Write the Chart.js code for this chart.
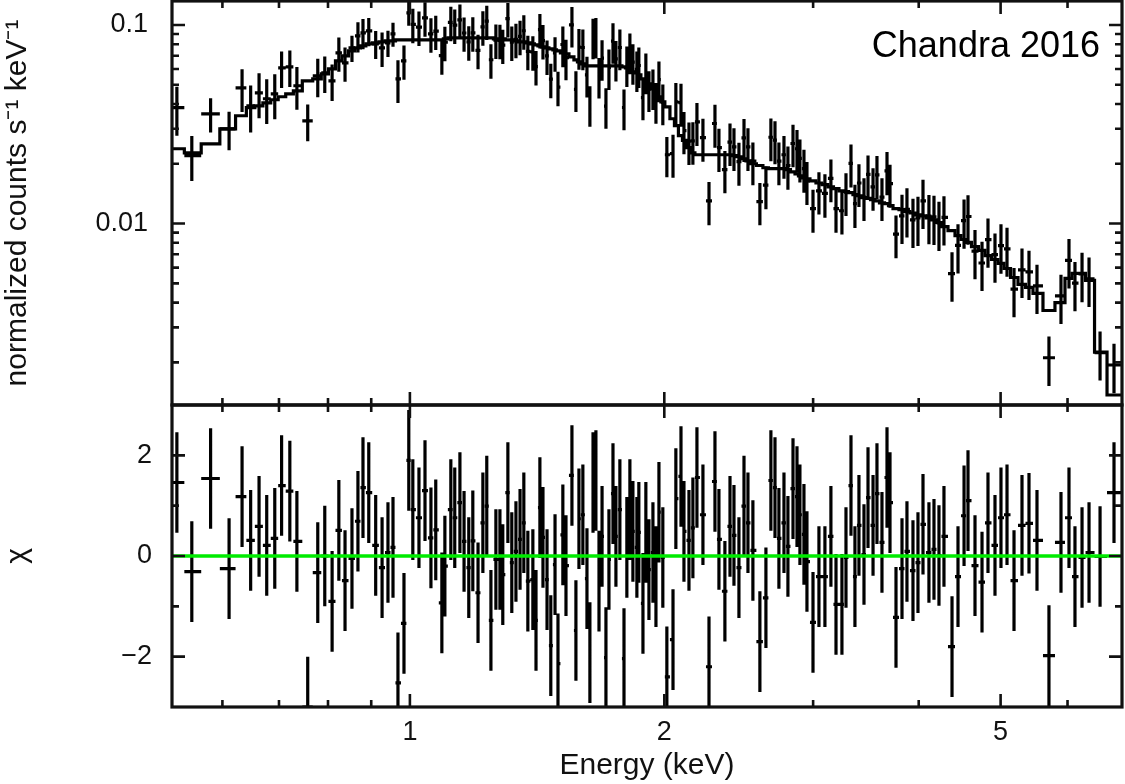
<!DOCTYPE html>
<html>
<head>
<meta charset="utf-8">
<script src="https://cdn.jsdelivr.net/npm/chart.js@4.4.0/dist/chart.umd.min.js"></script>
<style>
  html, body { margin: 0; padding: 0; background: #fff; }
  #wrap { position: relative; width: 1125px; height: 784px; }
  canvas { position: absolute; left: 0; top: 0; }
</style>
</head>
<body>
<div id="wrap">
  <canvas id="spec" width="1125" height="784"></canvas>
  <canvas id="resid" width="1125" height="784"></canvas>
</div>
<script>
// axis ranges and ticks
const xMin = 0.523, xMax = 6.96;
const yMin = 0.00122, yMax = 0.132;
const chiMin = -3, chiMax = 3;
const xTicks = [1, 2, 5];
const xMinorTicks = [0.6, 0.7, 0.8, 0.9, 3, 4, 6, 7];
const yTicks = [0.01, 0.1];
const yMinorTicks = [0.002, 0.003, 0.004, 0.005, 0.006, 0.007, 0.008, 0.009,
                     0.02, 0.03, 0.04, 0.05, 0.06, 0.07, 0.08, 0.09];
const chiTicks = [-2, 0, 2];
const chiMinorTicks = [-1, 1];
const chiErr = 1;

// bin centres (keV)
const energy = [
  0.530, 0.552, 0.581, 0.611, 0.633, 0.648, 0.663, 0.677, 0.692, 0.705, 0.721, 0.735, 0.757, 0.778, 0.793,
  0.809, 0.824, 0.838, 0.854, 0.868, 0.880, 0.894, 0.911, 0.927, 0.942, 0.955, 0.968, 0.984, 0.997,
  1.008, 1.025, 1.042, 1.059, 1.073, 1.091, 1.100, 1.118, 1.130, 1.146, 1.159, 1.174, 1.187, 1.204, 1.220,
  1.233, 1.247, 1.264, 1.278, 1.288, 1.306, 1.320, 1.335, 1.350, 1.364, 1.379, 1.398, 1.410, 1.425, 1.437,
  1.453, 1.468, 1.485, 1.497, 1.517, 1.530, 1.555, 1.572, 1.585, 1.602, 1.620, 1.633, 1.647, 1.660, 1.674,
  1.688, 1.706, 1.720, 1.739, 1.753, 1.772, 1.792, 1.806, 1.821, 1.836, 1.856, 1.866, 1.887, 1.902, 1.918,
  1.939, 1.955, 1.971, 1.992, 2.014,
  2.048, 2.064, 2.093, 2.110, 2.139, 2.162, 2.186, 2.222, 2.259, 2.296, 2.321, 2.359, 2.392, 2.418, 2.451,
  2.485, 2.512, 2.546, 2.595, 2.638, 2.674, 2.704, 2.733, 2.771, 2.801, 2.840, 2.871, 2.894, 2.926, 2.950,
  2.999, 3.048, 3.098, 3.149, 3.193, 3.245, 3.281, 3.326, 3.362, 3.399, 3.446, 3.484, 3.532, 3.570, 3.619,
  3.669, 3.699, 3.760,
  3.822, 3.874, 3.938, 3.992, 4.047, 4.113, 4.170, 4.227, 4.285, 4.380, 4.452, 4.526, 4.575, 4.663, 4.753,
  4.831, 4.924, 5.005, 5.088, 5.186, 5.300, 5.402, 5.521, 5.704, 5.894, 6.024, 6.123, 6.242, 6.362, 6.556,
  6.810
];

// normalized counts s^-1 keV^-1
const counts = [
  0.0383, 0.0220, 0.0357, 0.0300, 0.0482, 0.0391, 0.0455, 0.0425, 0.0450, 0.0608, 0.0615, 0.0494, 0.0329, 0.0554, 0.0574,
  0.0523, 0.0723, 0.0644, 0.0766, 0.0880, 0.0912, 0.0933, 0.0803, 0.0766, 0.0812, 0.0901, 0.0535, 0.0659, 0.115,
  0.1007, 0.0976, 0.1086, 0.0902, 0.0931, 0.0700, 0.0818, 0.1031, 0.0999, 0.1060, 0.0911, 0.0822, 0.0913, 0.0745, 0.0979,
  0.1045, 0.0668, 0.0839, 0.0836, 0.0791, 0.1077, 0.0820, 0.0846, 0.0876, 0.0935, 0.0736, 0.0732, 0.0617, 0.0947, 0.0834,
  0.0698, 0.0533, 0.0724, 0.0486, 0.0797, 0.0684, 0.1000, 0.0474, 0.0774, 0.0770, 0.0561, 0.0399, 0.0872, 0.0881, 0.0554,
  0.0681, 0.0390, 0.0612, 0.0829, 0.0675, 0.0770, 0.0384, 0.0633, 0.0735, 0.0650, 0.0597, 0.0625, 0.0431, 0.0583, 0.0475,
  0.0485, 0.0414, 0.0531, 0.0407, 0.0222,
  0.0225, 0.0410, 0.0406, 0.0294, 0.0260, 0.0261, 0.0325, 0.0271, 0.0130, 0.0319, 0.0241, 0.0187, 0.0257, 0.0243, 0.0205,
  0.0270, 0.0243, 0.0206, 0.0129, 0.0156, 0.0272, 0.0263, 0.0206, 0.0222, 0.0196, 0.0253, 0.0238, 0.0213, 0.0189, 0.0164,
  0.0119, 0.0146, 0.0142, 0.0169, 0.0119, 0.0116, 0.0144, 0.0201, 0.0126, 0.0160, 0.0136, 0.0177, 0.0153, 0.0176, 0.0136,
  0.0184, 0.0159, 0.00884,
  0.01093, 0.01178, 0.01044, 0.01067, 0.0130, 0.01089, 0.01081, 0.01008, 0.01075, 0.00560, 0.00777, 0.01035, 0.01085, 0.00726, 0.00633,
  0.00829, 0.00698, 0.00775, 0.00746, 0.00467, 0.00585, 0.00571, 0.00485, 0.00211, 0.00432, 0.00653, 0.00501, 0.00557, 0.00527, 0.00224,
  0.00194
];

const countsErr = [
  0.0106, 0.0056, 0.0070, 0.0066, 0.0117, 0.0104, 0.0116, 0.0108, 0.0115, 0.0127, 0.0128, 0.0120, 0.0069, 0.0122, 0.0120,
  0.0109, 0.0142, 0.0127, 0.0115, 0.0153, 0.0158, 0.0151, 0.0130, 0.0151, 0.0122, 0.0125, 0.0130, 0.0130, 0.0160,
  0.0198, 0.0192, 0.0214, 0.0178, 0.0183, 0.0138, 0.0161, 0.0203, 0.0197, 0.0209, 0.0179, 0.0162, 0.0180, 0.0147, 0.0193,
  0.0206, 0.0132, 0.0165, 0.0165, 0.0156, 0.0212, 0.0162, 0.0167, 0.0173, 0.0184, 0.0145, 0.0144, 0.0122, 0.0187, 0.0164,
  0.0138, 0.0105, 0.0143, 0.0096, 0.0184, 0.0158, 0.0231, 0.0110, 0.0179, 0.0178, 0.0130, 0.0092, 0.0201, 0.0204, 0.0128,
  0.0157, 0.0090, 0.0141, 0.0192, 0.0156, 0.0178, 0.0089, 0.0146, 0.0170, 0.0150, 0.0138, 0.0144, 0.0100, 0.0135, 0.0110,
  0.0112, 0.0096, 0.0123, 0.0094, 0.0051,
  0.0055, 0.0100, 0.0099, 0.0071, 0.0063, 0.0063, 0.0079, 0.0066, 0.0032, 0.0078, 0.0059, 0.0045, 0.0062, 0.0059, 0.0050,
  0.0066, 0.0059, 0.0050, 0.0031, 0.0038, 0.0066, 0.0064, 0.0050, 0.0054, 0.0048, 0.0061, 0.0058, 0.0052, 0.0046, 0.0040,
  0.0029, 0.0035, 0.0035, 0.0041, 0.0029, 0.0028, 0.0035, 0.0049, 0.0031, 0.0039, 0.0033, 0.0043, 0.0037, 0.0043, 0.0033,
  0.0045, 0.0039, 0.00215,
  0.00304, 0.00327, 0.00290, 0.00297, 0.00361, 0.00303, 0.00301, 0.00280, 0.00299, 0.00156, 0.00216, 0.00288, 0.00302, 0.00202, 0.00176,
  0.00230, 0.00194, 0.00216, 0.00207, 0.00130, 0.00163, 0.00159, 0.00135, 0.00059, 0.00120, 0.00182, 0.00139, 0.00155, 0.00147, 0.00062,
  0.00054
];

// folded model per bin
const model = [
  0.0238, 0.0227, 0.0252, 0.0300, 0.0349, 0.0383, 0.0391, 0.0405, 0.0420, 0.0435, 0.0450, 0.0466, 0.0523, 0.0535, 0.0567,
  0.0601, 0.0659, 0.0698, 0.0740, 0.0766, 0.0784, 0.0803, 0.0812, 0.0822, 0.0831, 0.0831, 0.0841, 0.0841, 0.0841,
  0.0841, 0.0841, 0.0841, 0.0841, 0.0841, 0.0841, 0.0850, 0.0860, 0.0860, 0.0860, 0.0860, 0.0860, 0.0860, 0.0860, 0.0860,
  0.0860, 0.0860, 0.0850, 0.0850, 0.0850, 0.0841, 0.0841, 0.0831, 0.0822, 0.0822, 0.0812, 0.0803, 0.0793, 0.0784, 0.0775,
  0.0766, 0.0757, 0.0749, 0.0740, 0.0723, 0.0715, 0.0690, 0.0667, 0.0651, 0.0637, 0.0622, 0.0622, 0.0622, 0.0622, 0.0622,
  0.0622, 0.0622, 0.0622, 0.0622, 0.0622, 0.0622, 0.0615, 0.0608, 0.0594, 0.0581, 0.0574, 0.0561, 0.0535, 0.0523, 0.0505,
  0.0477, 0.0455, 0.0435, 0.0410, 0.0387,
  0.0337, 0.0311, 0.0277, 0.0262, 0.0241, 0.0227, 0.0222, 0.0222, 0.0222, 0.0222, 0.0222, 0.0222, 0.0222, 0.0220, 0.0217,
  0.0212, 0.0207, 0.0200, 0.0196, 0.0191, 0.0189, 0.0189, 0.0189, 0.0189, 0.0187, 0.0182, 0.0178, 0.0174, 0.0170, 0.0168,
  0.0164, 0.0160, 0.0157, 0.0153, 0.0150, 0.0146, 0.0145, 0.0143, 0.0140, 0.0138, 0.0135, 0.0134, 0.0132, 0.0130, 0.0127,
  0.0126, 0.0123, 0.0119,
  0.01175, 0.01148, 0.0113, 0.01105, 0.01093, 0.01068, 0.01044, 0.01012, 0.00966, 0.00922, 0.00870, 0.00831, 0.00803, 0.00766, 0.00732,
  0.00690, 0.00659, 0.00630, 0.00594, 0.00535, 0.00494, 0.00477, 0.00445, 0.00365, 0.00400, 0.00529, 0.00561, 0.00561, 0.00517, 0.00225,
  0.00137
];

// residuals (data - model) / error
const chi = [
  1.46, -0.31, 1.54, -0.25, 1.18, 0.31, 0.59, 0.21, 0.35, 1.40, 1.29, 0.29, -3.0, -0.33, 0.0,
  -0.90, 0.51, -0.49, -0.05, 0.69, 1.36, 1.26, 0.21, -0.23, 0.07, 0.17, -2.52, -1.34, 1.90,
  0.92, 0.76, 1.30, 0.36, 0.52, -0.93, -0.20, 0.92, 0.76, 1.06, 0.29, -0.23, 0.30, -0.73, 0.66,
  0.99, -1.28, -0.07, -0.07, -0.37, 1.26, -0.13, 0.09, 0.33, 0.66, -0.50, -0.47, -1.28, 0.96, 0.37,
  -0.47, -1.78, -0.17, -2.14, 0.42, -0.19, 1.60, -1.48, 0.74, 0.82, -0.45, -1.92, 1.46, 1.50, -0.50,
  0.39, -2.02, -0.07, 1.24, 0.39, 0.92, -2.04, 0.17, 0.92, 0.49, 0.17, 0.47, -0.94, 0.47, -0.27,
  0.07, -0.41, 0.87, -0.03, -2.40,
  -1.66, 1.14, 1.58, 0.49, 0.31, 0.56, 1.56, 0.82, -2.20, 1.48, 0.33, -0.70, 0.59, 0.41, -0.23,
  0.99, 0.66, 0.11, -1.70, -0.83, 1.50, 1.36, 0.35, 0.66, 0.19, 1.34, 1.18, 0.82, 0.43, -0.11,
  -1.32, -0.41, -0.41, 0.39, -0.96, -0.96, -0.03, 1.40, -0.41, 0.61, 0.03, 1.16, 0.61, 1.24, 0.27,
  1.56, 1.06, -1.22,
  -0.25, 0.09, -0.29, -0.13, 0.63, 0.07, 0.13, 0.01, 0.39, -1.80, -0.41, 0.80, 1.10, -0.19, -0.52,
  0.66, 0.21, 0.76, 0.82, -0.49, 0.61, 0.65, 0.31, -1.98, 0.27, 0.76, -0.41, -0.03, 0.07, -0.01,
  1.26
];

Chart.defaults.font.family = '"Liberation Sans", Arial, sans-serif';
Chart.defaults.color = '#111';

// error crosses: horizontal bar spans the bin, vertical bar the error
const errorBars = {
  id: 'errorBars',
  beforeDatasetsDraw(chart) {
    const { ctx, chartArea: a, scales: { x, y } } = chart;
    const isLog = y.type === 'logarithmic';
    ctx.save();
    ctx.beginPath();
    ctx.rect(a.left, a.top, a.right - a.left, a.bottom - a.top);
    ctx.clip();
    ctx.strokeStyle = '#000';
    ctx.lineWidth = 3.2;
    chart.data.datasets.forEach(ds => {
      if (!ds.errorBars) return;
      const pts = ds.data;
      const px = pts.map(p => x.getPixelForValue(p.x));
      const n = pts.length;
      ctx.beginPath();
      pts.forEach((p, i) => {
        const left = i > 0 ? (px[i - 1] + px[i]) / 2 : px[i] - (px[i + 1] - px[i]) / 2;
        const right = i < n - 1 ? (px[i] + px[i + 1]) / 2 : px[i] + (px[i] - px[i - 1]) / 2;
        const py = y.getPixelForValue(p.y);
        const lo = isLog ? Math.max(p.y - p.err, p.y * 0.02) : p.y - p.err;
        ctx.moveTo(left, py);
        ctx.lineTo(right, py);
        ctx.moveTo(px[i], y.getPixelForValue(p.y + p.err));
        ctx.lineTo(px[i], y.getPixelForValue(lo));
      });
      ctx.stroke();
    });
    ctx.restore();
  }
};

// box frame with inward ticks on all four sides
const frameTicks = {
  id: 'frameTicks',
  afterDraw(chart, args, o) {
    const { ctx, chartArea: a, scales: { x, y } } = chart;
    ctx.save();
    ctx.strokeStyle = '#111';
    ctx.lineWidth = 2.6;
    ctx.beginPath();
    const xs = (list, len) => list.forEach(v => {
      if (v < x.min || v > x.max) return;
      const p = x.getPixelForValue(v);
      ctx.moveTo(p, a.top); ctx.lineTo(p, a.top + len);
      ctx.moveTo(p, a.bottom); ctx.lineTo(p, a.bottom - len);
    });
    const ys = (list, len) => list.forEach(v => {
      if (v < y.min || v > y.max) return;
      const p = y.getPixelForValue(v);
      ctx.moveTo(a.left, p); ctx.lineTo(a.left + len, p);
      ctx.moveTo(a.right, p); ctx.lineTo(a.right - len, p);
    });
    xs(xTicks, 13); xs(xMinorTicks, 7);
    ys(o.major, 13); ys(o.minor, 7);
    ctx.stroke();
    ctx.lineWidth = 3.2;
    ctx.strokeRect(a.left, a.top, a.right - a.left, a.bottom - a.top);
    if (o.label) {
      ctx.fillStyle = '#000';
      ctx.font = '36px "Liberation Sans", Arial, sans-serif';
      ctx.textAlign = 'right';
      ctx.textBaseline = 'alphabetic';
      ctx.fillText(o.label, a.right - 22, a.top + 56);
    }
    ctx.restore();
  }
};

function fixBox(w, h) {
  return s => {
    if (w) s.width = w;
    if (h) s.height = h;
    s.paddingTop = s.paddingBottom = s.paddingLeft = s.paddingRight = 0;
  };
}

const specPoints = energy.map((e, i) => ({ x: e, y: counts[i], err: countsErr[i] }));
const modelLine = [{ x: xMin, y: model[0] }]
  .concat(energy.map((e, i) => ({ x: e, y: model[i] })))
  .concat([{ x: xMax, y: model[model.length - 1] }]);
const chiPoints = energy.map((e, i) => ({ x: e, y: chi[i], err: chiErr }));

new Chart(document.getElementById('spec'), {
  type: 'scatter',
  data: {
    datasets: [
      { data: specPoints, errorBars: true, pointRadius: 0 },
      { data: modelLine, showLine: true, stepped: 'middle', borderColor: '#000', borderWidth: 3.2, pointRadius: 0 }
    ]
  },
  options: {
    responsive: false, animation: false, devicePixelRatio: 1, events: [],
    layout: { padding: { left: 0, top: 1, right: 3, bottom: 379 } },
    plugins: {
      legend: { display: false }, tooltip: { enabled: false },
      frameTicks: { major: yTicks, minor: yMinorTicks, label: 'Chandra 2016' }
    },
    scales: {
      x: { type: 'logarithmic', min: xMin, max: xMax, display: false },
      y: {
        type: 'logarithmic', min: yMin, max: yMax,
        afterFit: fixBox(172, 0),
        afterBuildTicks: s => { s.ticks = yTicks.map(v => ({ value: v })); },
        grid: { display: false, drawTicks: false }, border: { display: false },
        ticks: { padding: 24, autoSkip: false, font: { size: 27 }, callback: v => String(v) },
        title: { display: true, text: 'normalized counts s\u207B\u00B9 keV\u207B\u00B9', font: { size: 30 }, padding: { top: 0, bottom: 0 } }
      }
    }
  },
  plugins: [errorBars, frameTicks]
});

new Chart(document.getElementById('resid'), {
  type: 'scatter',
  data: {
    datasets: [
      { data: chiPoints, errorBars: true, pointRadius: 0 },
      { data: [{ x: xMin, y: 0 }, { x: xMax, y: 0 }], showLine: true, borderColor: 'rgb(0, 235, 0)', borderWidth: 3.5, pointRadius: 0 }
    ]
  },
  options: {
    responsive: false, animation: false, devicePixelRatio: 1, events: [],
    layout: { padding: { left: 0, top: 405, right: 3, bottom: 0 } },
    plugins: {
      legend: { display: false }, tooltip: { enabled: false },
      frameTicks: { major: chiTicks, minor: chiMinorTicks }
    },
    scales: {
      x: {
        type: 'logarithmic', min: xMin, max: xMax,
        afterFit: fixBox(0, 77),
        afterBuildTicks: s => { s.ticks = xTicks.map(v => ({ value: v })); },
        grid: { display: false, drawTicks: false }, border: { display: false },
        ticks: { padding: 9, autoSkip: false, maxRotation: 0, font: { size: 27 }, callback: v => String(v) },
        title: { display: true, text: 'Energy (keV)', font: { size: 30 }, padding: { top: 0, bottom: 0 } }
      },
      y: {
        type: 'linear', min: chiMin, max: chiMax,
        afterFit: fixBox(172, 0),
        afterBuildTicks: s => { s.ticks = chiTicks.map(v => ({ value: v })); },
        grid: { display: false, drawTicks: false }, border: { display: false },
        ticks: { padding: 20, autoSkip: false, font: { size: 27 }, callback: v => (v < 0 ? '\u2212' + Math.abs(v) : String(v)) },
        title: { display: true, text: '\u03C7', font: { size: 30 }, padding: { top: 0, bottom: 0 } }
      }
    }
  },
  plugins: [errorBars, frameTicks]
});
</script>
</body>
</html>
